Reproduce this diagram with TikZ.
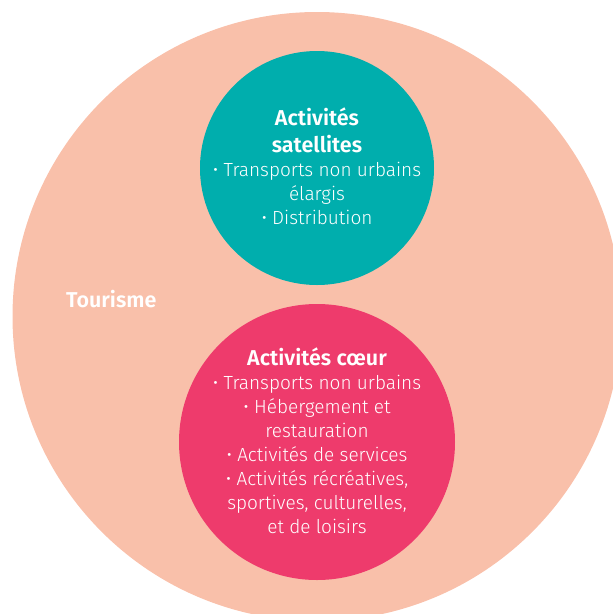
\documentclass[tikz,border=0pt]{standalone}
\usepackage{fontspec}
\setmainfont{Fira Sans}[UprightFont={* Light},BoldFont={* SemiBold}]
\definecolor{peach}{HTML}{F9C0AA}
\definecolor{lagoon}{HTML}{00AEAD}
\definecolor{rose}{HTML}{EE3B6C}
\begin{document}
\begin{tikzpicture}[x=1pt,y=-1pt,
    disc/.style={circle,inner sep=0pt,draw=none},
    body/.style={text=white,align=center,inner sep=0pt,anchor=base,
      font=\fontsize{19}{24}\selectfont},
    head/.style={body,font=\bfseries\fontsize{21.5}{27}\selectfont}]
  \useasboundingbox (0,0) rectangle (613,614);
  \clip (0,0) rectangle (613,614);
  % circles
  \node[disc,fill=peach,minimum size=609pt] (tourisme) at (317,316.5) {};
  \node[disc,fill=lagoon,minimum size=234pt] (satellite) at (317,168) {};
  \node[disc,fill=rose,minimum size=276pt] (coeur) at (317,442) {};
  % texts (base = last line)
  \node[head,anchor=base west] (tourismelabel) at (66,307) {Tourisme};
  \node[head] (satellitetitle) at (317,152) {Activités\\satellites};
  \node[body] (satellitelist) at (317,224) {• Transports non urbains\\élargis\\• Distribution};
  \node[head] (coeurtitle) at (317,365) {Activités cœur};
  \node[body] (coeurlist) at (317,533) {• Transports non urbains\\• Hébergement et\\restauration\\• Activités de services\\
    • Activités récréatives,\\sportives, culturelles,\\et de loisirs};
\end{tikzpicture}
\end{document}
